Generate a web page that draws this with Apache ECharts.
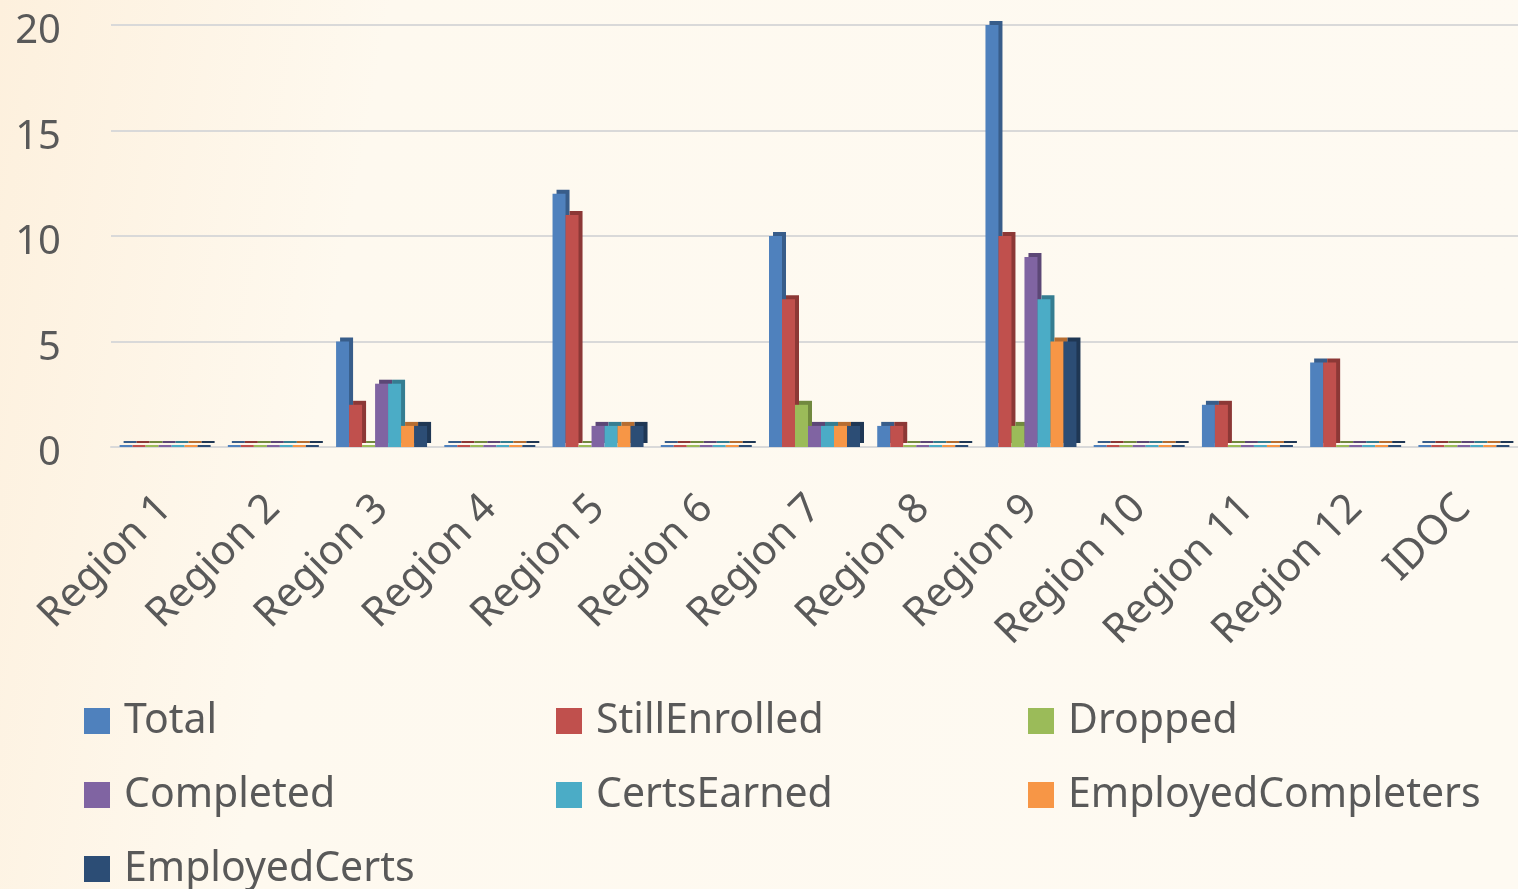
<!DOCTYPE html>
<html>
<head>
<meta charset="utf-8">
<script src="https://cdn.jsdelivr.net/npm/echarts@6/dist/echarts.min.js"></script>
<style>
  html, body { margin: 0; padding: 0; }
  #chart-container { width: 1518px; height: 889px; }
</style>
</head>
<body>
<div id="chart-container"></div>
<script>
var categories = ['Region 1', 'Region 2', 'Region 3', 'Region 4', 'Region 5', 'Region 6', 'Region 7',
  'Region 8', 'Region 9', 'Region 10', 'Region 11', 'Region 12', 'IDOC'];

var total              = [0, 0, 5, 0, 12, 0, 10, 1, 20, 0, 2, 4, 0];
var stillEnrolled      = [0, 0, 2, 0, 11, 0, 7, 1, 10, 0, 2, 4, 0];
var dropped            = [0, 0, 0, 0, 0, 0, 2, 0, 1, 0, 0, 0, 0];
var completed          = [0, 0, 3, 0, 1, 0, 1, 0, 9, 0, 0, 0, 0];
var certsEarned        = [0, 0, 3, 0, 1, 0, 1, 0, 7, 0, 0, 0, 0];
var employedCompleters = [0, 0, 1, 0, 1, 0, 1, 0, 5, 0, 0, 0, 0];
var employedCerts      = [0, 0, 1, 0, 1, 0, 1, 0, 5, 0, 0, 0, 0];

var seriesNames = ['Total', 'StillEnrolled', 'Dropped', 'Completed', 'CertsEarned', 'EmployedCompleters', 'EmployedCerts'];
var seriesData = [total, stillEnrolled, dropped, completed, certsEarned, employedCompleters, employedCerts];
var colors = ['#4F81BD', '#C0504D', '#9BBB59', '#8064A2', '#4BACC6', '#F79646', '#2C4D75'];
var sideColors = ['#385D8A', '#8C3836', '#71893F', '#5C4776', '#357D91', '#B66D31', '#1F3754'];

var dom = document.getElementById('chart-container');
var myChart = echarts.init(dom, null, { renderer: 'canvas' });

var series = seriesNames.map(function (name, i) {
  return {
    name: name,
    type: 'bar',
    data: seriesData[i],
    barWidth: 13,
    barGap: '0%',
    barMinHeight: 2,
    itemStyle: {
      color: colors[i],
      shadowColor: sideColors[i],
      shadowBlur: 0,
      shadowOffsetX: 4,
      shadowOffsetY: -4
    }
  };
});

var option = {
  animation: false,
  backgroundColor: {
    type: 'linear', x: 0, y: 0, x2: 1, y2: 0.3,
    colorStops: [
      { offset: 0, color: '#FDF0DD' },
      { offset: 0.25, color: '#FEF9EF' },
      { offset: 1, color: '#FEFAF2' }
    ]
  },
  color: colors,
  grid: { left: 111, top: 25, width: 1411, height: 422 },
  legend: {
    left: 79,
    top: 679,
    width: 1430,
    itemWidth: 26,
    itemHeight: 26,
    itemGap: 0,
    icon: 'rect',
    data: seriesNames,
    textStyle: {
      fontFamily: 'Noto Sans',
      fontSize: 41,
      color: '#595959',
      width: 432,
      lineHeight: 74,
      padding: [0, 0, 0, 9]
    }
  },
  xAxis: {
    type: 'category',
    data: categories,
    axisLine: { show: true, lineStyle: { color: '#D9D9D9', width: 2 } },
    axisTick: { show: false },
    axisLabel: {
      rotate: 45,
      interval: 0,
      margin: 55,
      fontFamily: 'Noto Sans',
      fontSize: 41,
      color: '#595959'
    }
  },
  yAxis: {
    type: 'value',
    min: 0,
    max: 20,
    interval: 5,
    axisLine: { show: false },
    axisTick: { show: false },
    splitLine: { lineStyle: { color: '#D9D9D9', width: 2 } },
    axisLabel: {
      margin: 50,
      formatter: '{v|{value}}',
      rich: {
        v: {
          padding: [14, 0, 0, 0],
          fontFamily: 'Noto Sans',
          fontSize: 40,
          color: '#595959'
        }
      }
    }
  },
  series: series
};

myChart.setOption(option);
window.addEventListener('resize', myChart.resize);
</script>
</body>
</html>
